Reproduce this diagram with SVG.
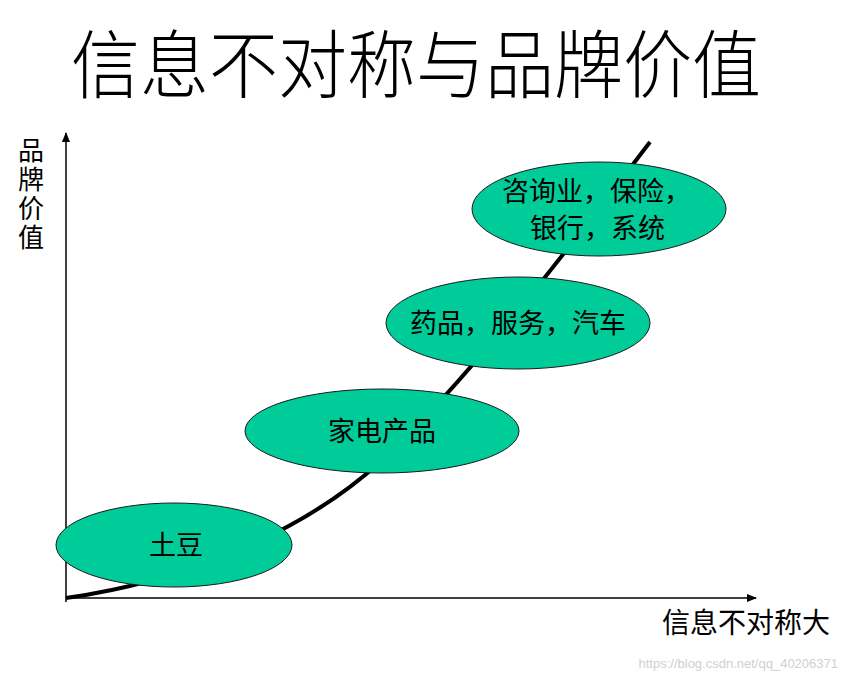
<svg xmlns="http://www.w3.org/2000/svg" width="850" height="681" viewBox="0 0 850 681">
<style>
text{font-family:"Noto Sans CJK SC","Noto Sans",sans-serif;fill:#000}
.el{fill:#00CC99;stroke:#1a1a1a;stroke-width:1}
.lbl{font-size:27px;text-anchor:middle}
.ax{stroke:#000;stroke-width:1.5;fill:none}
</style>
<defs>
<marker id="arr" markerWidth="10" markerHeight="10" refX="9" refY="5" orient="auto" markerUnits="userSpaceOnUse">
<path d="M0,1 L10,5 L0,9 Z" fill="#000"/>
</marker>
</defs>
<rect width="850" height="681" fill="#fff"/>
<text x="416" y="92" font-size="74" font-weight="300" text-anchor="middle" textLength="690" lengthAdjust="spacingAndGlyphs">信息不对称与品牌价值</text>
<g id="connectors">
<line class="ax" x1="66" y1="602" x2="66" y2="133" marker-end="url(#arr)"/>
<line class="ax" x1="66" y1="598" x2="756" y2="598" marker-end="url(#arr)"/>
<path d="M66,598 C 180,582 300,535 380,462 S 560,260 650,142" fill="none" stroke="#000" stroke-width="4"/>
</g>
<g id="axis-y-label">
<text font-size="26" x="31" y="137" style="writing-mode:vertical-rl;letter-spacing:3px">品牌价值</text>
</g>
<g id="axis-x-label">
<text font-size="28" x="746" y="633" text-anchor="middle">信息不对称大</text>
</g>
<g id="node-potato">
<ellipse class="el" cx="174" cy="545" rx="118" ry="42"/>
<text class="lbl" x="176" y="555">土豆</text>
</g>
<g id="node-appliance">
<ellipse class="el" cx="382" cy="431" rx="137" ry="42"/>
<text class="lbl" x="382" y="441">家电产品</text>
</g>
<g id="node-medicine">
<ellipse class="el" cx="518" cy="323" rx="132" ry="46"/>
<text class="lbl" x="518" y="333">药品，服务，汽车</text>
</g>
<g id="node-consulting">
<ellipse class="el" cx="599" cy="209" rx="127" ry="47"/>
<text font-size="27" x="502" y="201">咨询业，保险，</text>
<text font-size="27" x="530" y="238">银行，系统</text>
</g>
<text x="838" y="668" font-size="13" text-anchor="end" style="font-family:'Liberation Sans',sans-serif;fill:#d0d0d0">https://blog.csdn.net/qq_40206371</text>
</svg>
